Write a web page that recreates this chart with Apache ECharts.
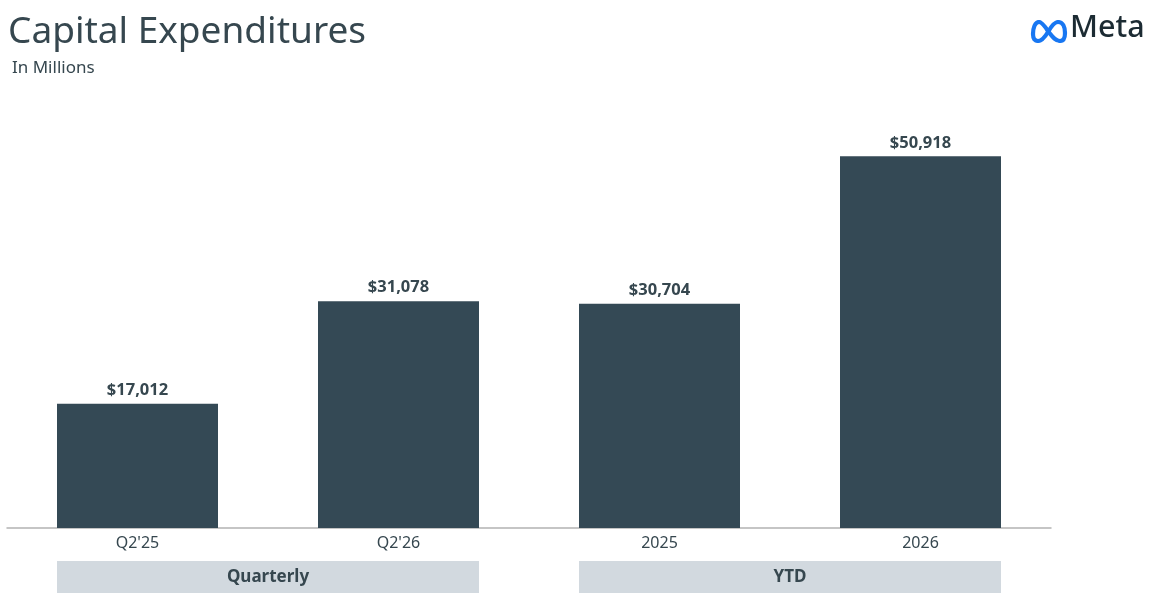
<!DOCTYPE html>
<html>
<head>
<meta charset="utf-8">
<script src="https://cdn.jsdelivr.net/npm/echarts@6/dist/echarts.min.js"></script>
<style>
  html, body { margin: 0; padding: 0; background: #fff; }
  #chart { width: 1154px; height: 612px; }
</style>
</head>
<body>
<div id="chart"></div>
<script>
// 数据
var categories = ["Q2'25", "Q2'26", "2025", "2026"];
var capex_values = [17012, 31078, 30704, 50918];
var group_labels = ['Quarterly', 'YTD'];

var text_color = '#36474f';
var bar_color = '#344955';

var chart = echarts.init(document.getElementById('chart'));

function fmt_money(v){
  return '$' + v.toLocaleString('en-US');
}

// Meta 的无穷符号，用几段贝塞尔曲线拼
function logo_curve(x1, y1, c1x, c1y, c2x, c2y, x2, y2){
  return {
    type: 'bezierCurve',
    shape: { x1: x1, y1: y1, cpx1: c1x, cpy1: c1y, cpx2: c2x, cpy2: c2y, x2: x2, y2: y2 },
    style: { fill: null, stroke: '#1877f2', lineWidth: 4.2, lineCap: 'round' }
  };
}

chart.setOption({
  backgroundColor: '#ffffff',
  textStyle: { fontFamily: 'Noto Sans' },
  title: [{
    text: 'Capital Expenditures',
    left: 3,
    top: 9,
    textStyle: { fontSize: 37, fontWeight: 'normal', color: text_color, fontFamily: 'Noto Sans' }
  }, {
    text: 'In Millions',
    left: 7,
    top: 55,
    textStyle: { fontSize: 17, fontWeight: 'normal', color: text_color, fontFamily: 'Noto Sans' }
  }],
  grid: { left: 7, right: 103, top: 90, bottom: 84, containLabel: false },
  xAxis: [{
    type: 'category',
    data: categories,
    axisLine: { lineStyle: { color: '#b3b3b3', width: 1.5 } },
    axisTick: { show: false },
    axisLabel: { color: text_color, fontSize: 16, margin: 7 }
  }, {
    type: 'category',
    data: group_labels,
    position: 'bottom',
    offset: 33,
    axisLine: { show: false },
    axisTick: { show: false },
    axisLabel: {
      margin: 0,
      color: text_color,
      fontSize: 17,
      fontWeight: 'bold',
      backgroundColor: '#d2d9df',
      width: 422,
      height: 32,
      lineHeight: 32,
      align: 'center'
    }
  }],
  yAxis: {
    type: 'value',
    min: 0,
    max: 60000,
    show: false,
    splitLine: { show: false }
  },
  series: [{
    type: 'bar',
    data: capex_values,
    xAxisIndex: 0,
    barWidth: 161,
    itemStyle: { color: bar_color },
    label: {
      show: true,
      position: 'top',
      distance: 5,
      color: text_color,
      fontSize: 16.5,
      fontWeight: 'bold',
      formatter: function(p){ return fmt_money(p.value); }
    }
  }],
  graphic: [{
    type: 'group',
    x: 1033,
    y: 21,
    children: [
      logo_curve(15, 11, 19, 4, 22, 1, 25, 1),
      logo_curve(25, 1, 30, 1, 32, 6, 32, 12),
      logo_curve(32, 12, 32, 18, 30, 20, 27, 20),
      logo_curve(27, 20, 22, 20, 19, 15, 15, 10),
      logo_curve(15, 10, 11, 4, 8, 1, 6, 1),
      logo_curve(6, 1, 2, 1, 0, 7, 0, 13),
      logo_curve(0, 13, 0, 18, 2, 20, 5, 20),
      logo_curve(5, 20, 9, 20, 12, 16, 15, 11)
    ]
  }, {
    type: 'text',
    x: 1070,
    y: 13,
    style: { text: 'Meta', fontSize: 30.5, fontFamily: 'Noto Sans', fill: '#1c2b33', fontWeight: 500 }
  }]
});
</script>
</body>
</html>
